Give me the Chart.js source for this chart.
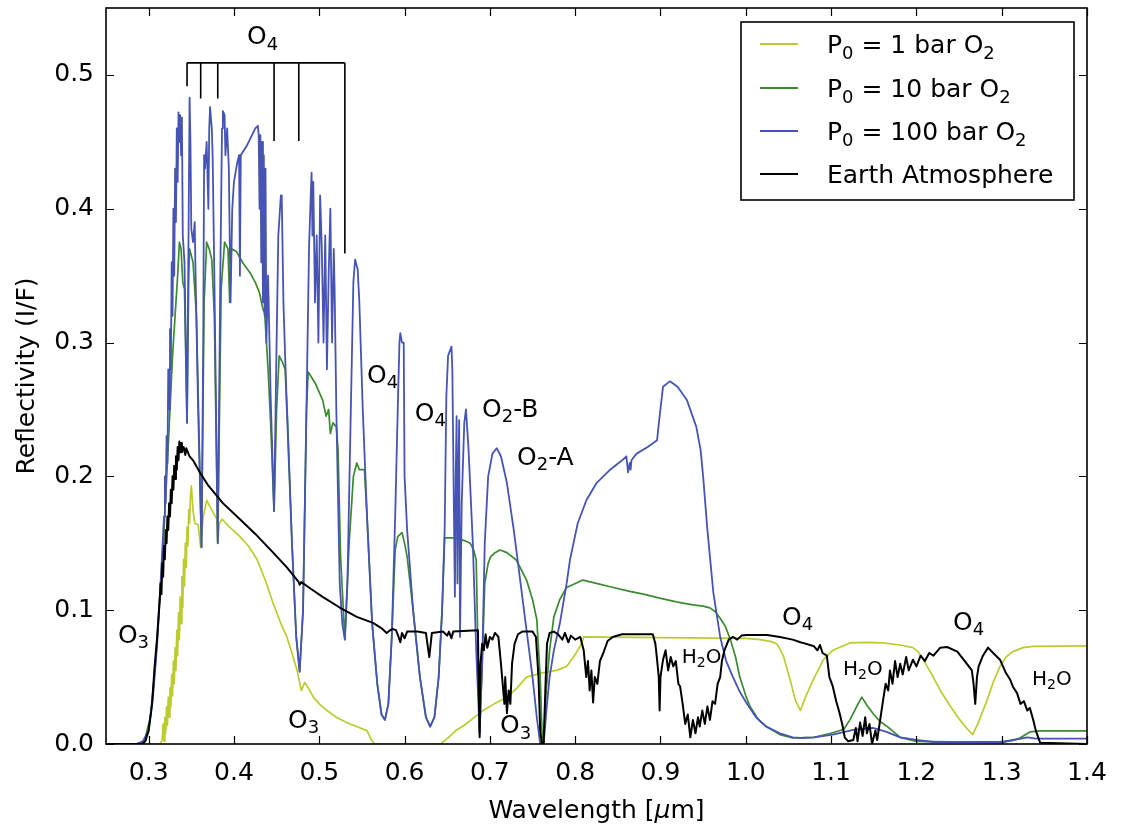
<!DOCTYPE html>
<html>
<head>
<meta charset="utf-8">
<script src="https://cdn.jsdelivr.net/npm/chart.js@4/dist/chart.umd.min.js"></script>
<style>
html,body{margin:0;padding:0;background:#fff;}
canvas{display:block;}
</style>
</head>
<body>
<canvas id="c" width="1123" height="831"></canvas>
<script>
// ---- Data (wavelength in micron, reflectivity I/F) ----
const xTicks = [0.3,0.4,0.5,0.6,0.7,0.8,0.9,1.0,1.1,1.2,1.3,1.4];
const yTicks = [0.0,0.1,0.2,0.3,0.4,0.5];

const seriesNames = ['P_0 = 1 bar O_2','P_0 = 10 bar O_2','P_0 = 100 bar O_2','Earth Atmosphere'];

const bar1 = [
[0.25,0],[0.314,0],[0.316,0.004],[0.317,0.015],[0.318,0.002],[0.319,0.02],[0.320,0.008],[0.321,0.028],[0.322,0.014],
[0.323,0.035],[0.324,0.02],[0.325,0.042],[0.326,0.028],[0.327,0.052],[0.328,0.036],[0.329,0.062],[0.330,0.045],
[0.331,0.072],[0.332,0.055],[0.333,0.085],[0.334,0.066],[0.335,0.098],[0.336,0.078],[0.337,0.11],[0.338,0.09],
[0.339,0.125],[0.340,0.102],[0.341,0.138],[0.342,0.118],[0.343,0.15],[0.344,0.132],[0.345,0.162],[0.346,0.148],
[0.347,0.175],[0.348,0.165],[0.349,0.185],[0.350,0.193],
[0.352,0.175],[0.354,0.165],[0.358,0.164],[0.361,0.147],[0.364,0.17],[0.368,0.182],[0.374,0.175],[0.380,0.168],
[0.381,0.152],[0.383,0.165],[0.386,0.168],[0.395,0.162],[0.407,0.155],[0.417,0.148],[0.427,0.138],[0.437,0.122],
[0.446,0.105],[0.455,0.09],[0.462,0.080],[0.468,0.068],[0.474,0.055],[0.479,0.040],[0.483,0.046],[0.488,0.041],
[0.493,0.035],[0.500,0.030],[0.509,0.025],[0.520,0.020],[0.532,0.016],[0.540,0.014],[0.548,0.012],[0.556,0.010],
[0.561,0.003],[0.565,0],[0.642,0],[0.650,0.004],[0.655,0.007],[0.661,0.0105],[0.670,0.014],[0.680,0.019],
[0.692,0.025],[0.705,0.030],[0.720,0.035],[0.732,0.042],[0.743,0.050],[0.760,0.053],[0.778,0.055],[0.790,0.058],
[0.798,0.065],[0.806,0.073],[0.810,0.080],[0.900,0.0795],[1.000,0.079],[1.017,0.078],[1.030,0.0765],[1.037,0.0745],
[1.044,0.066],[1.052,0.048],[1.058,0.033],[1.064,0.025],[1.070,0.035],[1.079,0.048],[1.091,0.063],[1.102,0.070],
[1.122,0.0755],[1.142,0.076],[1.160,0.0755],[1.181,0.074],[1.196,0.072],[1.202,0.069],[1.208,0.063],[1.218,0.052],
[1.228,0.040],[1.240,0.028],[1.251,0.018],[1.260,0.011],[1.266,0.007],[1.272,0.015],[1.283,0.033],[1.290,0.046],
[1.298,0.058],[1.305,0.065],[1.313,0.069],[1.325,0.072],[1.337,0.073],[1.40,0.0733]
];

const bar10 = [
[0.25,0],[0.29,0],[0.295,0.002],[0.302,0.02],[0.308,0.06],[0.313,0.11],[0.318,0.16],[0.322,0.21],[0.325,0.25],
[0.328,0.29],[0.330,0.31],[0.332,0.33],[0.334,0.35],[0.336,0.375],[0.338,0.37],[0.340,0.345],[0.342,0.34],
[0.345,0.24],[0.347,0.35],[0.348,0.37],[0.352,0.36],[0.356,0.32],[0.362,0.147],[0.365,0.33],[0.368,0.375],
[0.371,0.37],[0.374,0.362],[0.377,0.32],[0.381,0.15],[0.385,0.34],[0.389,0.375],[0.393,0.37],[0.395,0.33],
[0.397,0.37],[0.403,0.368],[0.410,0.36],[0.419,0.352],[0.425,0.345],[0.430,0.337],[0.434,0.325],[0.436,0.322],
[0.440,0.28],[0.443,0.24],[0.447,0.174],[0.450,0.25],[0.453,0.29],[0.457,0.285],[0.460,0.28],[0.463,0.24],
[0.468,0.15],[0.473,0.08],[0.477,0.054],[0.481,0.10],[0.485,0.25],[0.487,0.278],[0.495,0.27],[0.504,0.257],
[0.508,0.245],[0.511,0.25],[0.513,0.232],[0.516,0.24],[0.520,0.237],[0.522,0.22],[0.525,0.14],[0.530,0.078],
[0.535,0.15],[0.540,0.20],[0.544,0.21],[0.547,0.205],[0.553,0.205],[0.556,0.17],[0.562,0.09],[0.568,0.045],
[0.573,0.022],[0.577,0.018],[0.581,0.03],[0.585,0.08],[0.589,0.145],[0.592,0.155],[0.597,0.158],[0.600,0.15],
[0.603,0.14],[0.610,0.10],[0.618,0.05],[0.625,0.02],[0.630,0.013],[0.635,0.02],[0.640,0.05],[0.644,0.10],
[0.647,0.154],[0.651,0.154],[0.660,0.154],[0.665,0.153],[0.670,0.152],[0.677,0.150],[0.681,0.145],[0.684,0.1375],
[0.686,0.07],[0.688,0.008],[0.691,0.06],[0.694,0.12],[0.698,0.135],[0.701,0.14],[0.706,0.143],[0.712,0.145],
[0.720,0.143],[0.731,0.1375],[0.743,0.1225],[0.750,0.108],[0.755,0.093],[0.759,0.05],[0.761,0.01],[0.763,0.0],
[0.766,0.04],[0.770,0.07],[0.775,0.095],[0.782,0.108],[0.790,0.117],[0.797,0.119],[0.809,0.1225],[0.825,0.12],
[0.841,0.1175],[0.864,0.114],[0.880,0.112],[0.899,0.109],[0.920,0.106],[0.938,0.104],[0.950,0.103],[0.958,0.1017],
[0.964,0.099],[0.970,0.094],[0.976,0.088],[0.982,0.078],[0.988,0.065],[0.993,0.050],[1.000,0.036],[1.005,0.028],
[1.015,0.018],[1.024,0.013],[1.040,0.007],[1.055,0.0045],[1.080,0.005],[1.100,0.008],[1.115,0.011],[1.122,0.018],
[1.130,0.028],[1.136,0.035],[1.142,0.029],[1.149,0.023],[1.157,0.017],[1.166,0.013],[1.181,0.005],[1.200,0.002],
[1.300,0.001],[1.320,0.004],[1.333,0.009],[1.345,0.0098],[1.40,0.0098]
];

const bar100 = [
[0.25,0],[0.285,0],[0.293,0.002],[0.300,0.01],[0.305,0.035],[0.310,0.075],[0.314,0.12],[0.318,0.17],[0.319,0.2],
[0.320,0.18],[0.321,0.23],[0.322,0.21],[0.323,0.28],[0.324,0.25],[0.325,0.31],[0.326,0.28],[0.327,0.36],[0.328,0.32],
[0.329,0.40],[0.330,0.35],[0.331,0.43],[0.332,0.39],[0.333,0.46],[0.334,0.42],[0.335,0.472],[0.336,0.45],
[0.337,0.47],[0.338,0.44],[0.339,0.468],[0.340,0.38],[0.342,0.36],
[0.345,0.24],[0.347,0.40],[0.348,0.483],[0.349,0.45],[0.350,0.385],[0.352,0.375],[0.354,0.39],[0.355,0.35],
[0.358,0.25],[0.362,0.147],[0.364,0.30],[0.365,0.44],[0.366,0.43],[0.368,0.45],[0.370,0.40],[0.371,0.46],
[0.372,0.476],[0.374,0.46],[0.375,0.44],[0.377,0.35],[0.381,0.15],[0.384,0.35],[0.386,0.46],[0.387,0.473],
[0.389,0.47],[0.390,0.44],[0.392,0.46],[0.394,0.43],[0.396,0.33],[0.398,0.40],[0.400,0.42],[0.404,0.435],
[0.406,0.44],[0.407,0.35],[0.408,0.44],[0.415,0.447],[0.425,0.46],[0.428,0.462],[0.429,0.455],[0.430,0.40],
[0.431,0.455],[0.432,0.36],[0.433,0.45],[0.434,0.33],[0.435,0.44],[0.436,0.32],[0.437,0.43],[0.438,0.30],
[0.440,0.35],[0.443,0.26],[0.447,0.174],[0.450,0.30],[0.452,0.38],[0.455,0.41],[0.456,0.41],[0.458,0.33],
[0.462,0.25],[0.468,0.15],[0.473,0.08],[0.477,0.054],[0.481,0.10],[0.485,0.25],[0.488,0.37],[0.490,0.41],
[0.491,0.427],[0.492,0.38],[0.493,0.42],[0.495,0.33],[0.497,0.38],[0.499,0.30],[0.501,0.41],[0.503,0.37],
[0.505,0.30],[0.507,0.38],[0.509,0.28],[0.511,0.35],[0.513,0.40],[0.515,0.30],[0.517,0.37],[0.518,0.34],
[0.520,0.25],[0.524,0.12],[0.527,0.09],[0.530,0.078],[0.533,0.12],[0.537,0.25],[0.540,0.345],[0.542,0.362],
[0.545,0.355],[0.547,0.33],[0.551,0.25],[0.556,0.17],[0.562,0.09],[0.568,0.045],[0.573,0.022],[0.577,0.018],
[0.581,0.03],[0.585,0.08],[0.589,0.17],[0.592,0.25],[0.594,0.30],[0.595,0.307],[0.597,0.30],[0.599,0.30],
[0.600,0.20],[0.603,0.16],[0.610,0.10],[0.618,0.05],[0.625,0.02],[0.630,0.013],[0.635,0.02],[0.640,0.05],
[0.644,0.10],[0.647,0.16],[0.649,0.26],[0.651,0.29],[0.655,0.297],[0.656,0.28],[0.659,0.11],[0.660,0.20],
[0.661,0.245],[0.662,0.12],[0.663,0.20],[0.664,0.242],[0.665,0.08],[0.667,0.18],[0.670,0.24],[0.672,0.25],
[0.675,0.22],[0.680,0.15],[0.684,0.07],[0.688,0.008],[0.691,0.06],[0.694,0.15],[0.698,0.20],[0.703,0.217],
[0.708,0.221],[0.713,0.215],[0.720,0.195],[0.728,0.16],[0.736,0.12],[0.744,0.08],[0.750,0.05],[0.755,0.02],
[0.759,0.0],[0.763,0.0],[0.767,0.03],[0.770,0.05],[0.775,0.07],[0.782,0.09],[0.790,0.12],[0.794,0.138],
[0.803,0.165],[0.813,0.182],[0.825,0.195],[0.841,0.205],[0.855,0.212],[0.860,0.215],[0.862,0.203],[0.864,0.21],
[0.865,0.205],[0.866,0.212],[0.872,0.217],[0.885,0.222],[0.896,0.227],[0.899,0.245],[0.903,0.267],[0.911,0.271],
[0.920,0.267],[0.931,0.257],[0.942,0.237],[0.947,0.22],[0.950,0.20],[0.955,0.16],[0.962,0.113],[0.970,0.080],
[0.977,0.062],[0.985,0.050],[0.993,0.039],[1.001,0.0305],[1.012,0.02],[1.024,0.013],[1.040,0.008],[1.055,0.005],
[1.064,0.0045],[1.080,0.005],[1.102,0.007],[1.126,0.0105],[1.149,0.012],[1.165,0.009],[1.181,0.005],[1.200,0.003],
[1.220,0.0015],[1.298,0.0015],[1.315,0.003],[1.330,0.005],[1.340,0.004],[1.40,0.004]
];

const earth = [
[0.25,0],[0.292,0],[0.296,0.002],[0.300,0.01],[0.304,0.03],[0.307,0.058],[0.310,0.08],[0.313,0.108],[0.314,0.12],
[0.315,0.112],[0.316,0.135],[0.317,0.125],[0.318,0.148],[0.319,0.138],[0.320,0.16],[0.321,0.15],[0.322,0.17],
[0.323,0.16],[0.324,0.18],[0.325,0.17],[0.326,0.19],[0.327,0.18],[0.328,0.2],[0.329,0.19],[0.330,0.208],
[0.331,0.198],[0.332,0.215],[0.333,0.205],[0.334,0.222],[0.335,0.212],[0.336,0.226],[0.337,0.218],[0.338,0.225],
[0.339,0.218],[0.341,0.222],[0.343,0.216],[0.344,0.221],
[0.348,0.215],[0.352,0.212],[0.360,0.203],[0.370,0.193],[0.387,0.180],[0.407,0.168],[0.425,0.157],[0.446,0.143],
[0.462,0.132],[0.476,0.121],[0.477,0.119],[0.479,0.121],[0.490,0.116],[0.504,0.110],[0.524,0.102],[0.544,0.095],
[0.563,0.0905],[0.574,0.086],[0.579,0.083],[0.583,0.085],[0.586,0.086],[0.590,0.085],[0.593,0.080],[0.595,0.076],
[0.597,0.083],[0.600,0.079],[0.603,0.084],[0.615,0.084],[0.625,0.083],[0.629,0.065],[0.632,0.083],[0.645,0.084],
[0.650,0.081],[0.652,0.084],[0.655,0.079],[0.657,0.084],[0.686,0.085],[0.687,0.04],[0.688,0.005],[0.689,0.06],
[0.691,0.075],[0.693,0.07],[0.695,0.082],[0.697,0.072],[0.700,0.08],[0.703,0.078],[0.706,0.083],[0.710,0.08],
[0.713,0.06],[0.715,0.045],[0.717,0.03],[0.718,0.05],[0.720,0.023],[0.722,0.04],[0.724,0.03],[0.726,0.06],
[0.729,0.075],[0.733,0.082],[0.738,0.084],[0.750,0.084],[0.754,0.08],[0.757,0.05],[0.759,0.01],[0.761,0.0],
[0.763,0.0],[0.765,0.04],[0.767,0.075],[0.770,0.083],[0.775,0.084],[0.780,0.082],[0.785,0.078],[0.788,0.083],
[0.792,0.076],[0.795,0.081],[0.800,0.078],[0.806,0.080],[0.810,0.07],[0.813,0.05],[0.815,0.062],[0.817,0.04],
[0.819,0.055],[0.821,0.031],[0.823,0.05],[0.826,0.045],[0.829,0.062],[0.833,0.068],[0.838,0.077],[0.844,0.080],
[0.855,0.082],[0.891,0.082],[0.894,0.075],[0.896,0.063],[0.898,0.05],[0.899,0.025],[0.900,0.05],[0.903,0.063],
[0.906,0.07],[0.909,0.055],[0.912,0.065],[0.915,0.058],[0.918,0.062],[0.921,0.045],[0.923,0.043],[0.926,0.03],
[0.929,0.015],[0.932,0.022],[0.935,0.005],[0.938,0.018],[0.941,0.008],[0.944,0.02],[0.946,0.013],[0.949,0.025],
[0.952,0.015],[0.955,0.028],[0.958,0.018],[0.961,0.032],[0.964,0.03],[0.967,0.045],[0.970,0.05],[0.972,0.062],
[0.975,0.07],[0.980,0.078],[0.985,0.080],[0.990,0.078],[0.995,0.081],[1.001,0.0815],[1.025,0.0815],[1.040,0.080],
[1.055,0.078],[1.064,0.076],[1.070,0.075],[1.080,0.073],[1.084,0.070],[1.087,0.074],[1.090,0.068],[1.095,0.066],
[1.098,0.05],[1.102,0.043],[1.106,0.032],[1.110,0.023],[1.113,0.015],[1.116,0.005],[1.120,0.002],[1.126,0.003],
[1.129,0.012],[1.131,0.002],[1.134,0.016],[1.137,0.006],[1.140,0.02],[1.142,0.008],[1.145,0.015],[1.148,0.0],
[1.152,0.01],[1.154,0.003],[1.158,0.02],[1.161,0.033],[1.164,0.045],[1.167,0.04],[1.169,0.055],[1.172,0.045],
[1.175,0.062],[1.178,0.05],[1.181,0.060],[1.184,0.052],[1.188,0.065],[1.191,0.055],[1.196,0.063],[1.200,0.058],
[1.205,0.066],[1.210,0.062],[1.215,0.068],[1.220,0.066],[1.228,0.072],[1.236,0.0725],[1.248,0.069],[1.259,0.060],
[1.265,0.055],[1.267,0.045],[1.269,0.030],[1.271,0.05],[1.273,0.058],[1.278,0.066],[1.284,0.072],[1.290,0.068],
[1.298,0.063],[1.305,0.053],[1.310,0.048],[1.313,0.043],[1.318,0.038],[1.322,0.030],[1.326,0.032],[1.330,0.025],
[1.333,0.027],[1.337,0.018],[1.340,0.010],[1.345,0.001],[1.40,0]
];

// O4 bracket: horizontal at bracketTop, vertical drops to given bottoms
const bracketX = [0.345,0.361,0.381,0.447,0.476,0.530];
const bracketBottom = [0.4916,0.4824,0.4824,0.4506,0.4506,0.3665];
const bracketTop = 0.509;

// Annotation labels ('_' marks a subscript character)
const annoText = ['O_4','O_4','O_4','O_2-B','O_2-A','O_3','O_3','O_3','H_2O','O_4','H_2O','O_4','H_2O'];
const annoX    = [0.4153,0.556,0.612,0.6908,0.7318,0.264,0.4634,0.712,0.925,1.0425,1.114,1.243,1.3356];
const annoY    = [0.523,0.270,0.2416,0.2446,0.2087,0.0755,0.012,0.0082,0.0606,0.089,0.0516,0.0853,0.0441];

const colors = ['#bccb30','#3b8a32','#4754b4','#000000'];
const FONT = '"DejaVu Sans", "Liberation Sans", sans-serif';

function toXY(a){ return a.map(p => ({x:p[0], y:p[1]})); }

function drawRich(ctx, str, x, y, size, align){
  const subSize = Math.round(size*0.7);
  const parts = [];
  for (let i=0;i<str.length;i++){
    if (str[i]==='_' && i+1<str.length){ parts.push({t:str[i+1],sub:true}); i++; }
    else {
      if (parts.length && !parts[parts.length-1].sub) parts[parts.length-1].t += str[i];
      else parts.push({t:str[i],sub:false});
    }
  }
  let total = 0;
  parts.forEach(p => { ctx.font = (p.sub?subSize:size)+'px '+FONT; p.w = ctx.measureText(p.t).width; total += p.w; });
  let cx = align==='center' ? x - total/2 : x;
  ctx.textAlign = 'left';
  ctx.textBaseline = 'alphabetic';
  parts.forEach(p => {
    ctx.font = (p.sub?subSize:size)+'px '+FONT;
    ctx.fillText(p.t, cx, p.sub ? y + size*0.22 : y);
    cx += p.w;
  });
}

const decor = {
  id: 'decor',
  afterDatasetsDraw(chart){
    const ctx = chart.ctx, a = chart.chartArea;
    const xs = chart.scales.x, ys = chart.scales.y;
    ctx.save();
    ctx.strokeStyle = '#000';
    ctx.fillStyle = '#000';
    ctx.lineWidth = 1.6;
    ctx.strokeRect(a.left, a.top, a.right-a.left, a.bottom-a.top);
    ctx.lineWidth = 1.2;
    const tl = 8;
    ctx.beginPath();
    xTicks.forEach(v => {
      const px = Math.round(xs.getPixelForValue(v))+0.5;
      ctx.moveTo(px, a.bottom); ctx.lineTo(px, a.bottom - tl);
      ctx.moveTo(px, a.top); ctx.lineTo(px, a.top + tl);
    });
    yTicks.forEach(v => {
      const py = Math.round(ys.getPixelForValue(v))+0.5;
      ctx.moveTo(a.left, py); ctx.lineTo(a.left + tl, py);
      ctx.moveTo(a.right, py); ctx.lineTo(a.right - tl, py);
    });
    ctx.stroke();
    ctx.lineWidth = 1.6;
    ctx.beginPath();
    const yTop = ys.getPixelForValue(bracketTop);
    ctx.moveTo(xs.getPixelForValue(bracketX[0]), yTop);
    ctx.lineTo(xs.getPixelForValue(bracketX[bracketX.length-1]), yTop);
    bracketX.forEach((bx,i) => {
      const px = xs.getPixelForValue(bx);
      ctx.moveTo(px, yTop); ctx.lineTo(px, ys.getPixelForValue(bracketBottom[i]));
    });
    ctx.stroke();
    annoText.forEach((t,i) => {
      const size = t.startsWith('H') ? 20 : 25;
      drawRich(ctx, t, xs.getPixelForValue(annoX[i]), ys.getPixelForValue(annoY[i]), size, 'left');
    });
    const L = {x:741, y:22, w:333, h:178};
    ctx.fillStyle = '#fff';
    ctx.fillRect(L.x, L.y, L.w, L.h);
    ctx.lineWidth = 1.6;
    ctx.strokeStyle = '#000';
    ctx.strokeRect(L.x, L.y, L.w, L.h);
    const rowY = [44, 88, 131, 174];
    seriesNames.forEach((n,i) => {
      ctx.strokeStyle = colors[i];
      ctx.lineWidth = 2;
      ctx.beginPath();
      ctx.moveTo(760, rowY[i]); ctx.lineTo(798, rowY[i]);
      ctx.stroke();
      ctx.fillStyle = '#000';
      drawRich(ctx, n, 827, rowY[i] + 9, 25, 'left');
    });
    ctx.fillStyle = '#000';
    ctx.textBaseline = 'alphabetic';
    const p1 = 'Wavelength [', p2 = '\u03BC', p3 = 'm]';
    ctx.font = '25px ' + FONT; const w1 = ctx.measureText(p1).width;
    ctx.font = 'italic 25px ' + FONT; const w2 = ctx.measureText(p2).width;
    ctx.font = '25px ' + FONT; const w3 = ctx.measureText(p3).width;
    let sx = (a.left + a.right)/2 - (w1+w2+w3)/2;
    const by = 818;
    ctx.textAlign = 'left';
    ctx.font = '25px ' + FONT; ctx.fillText(p1, sx, by); sx += w1;
    ctx.font = 'italic 25px ' + FONT; ctx.fillText(p2, sx, by); sx += w2;
    ctx.font = '25px ' + FONT; ctx.fillText(p3, sx, by);
    ctx.save();
    ctx.translate(34, (a.top + a.bottom)/2);
    ctx.rotate(-Math.PI/2);
    ctx.textAlign = 'center';
    ctx.font = '25px ' + FONT;
    ctx.fillText('Reflectivity (I/F)', 0, 0);
    ctx.restore();
    ctx.restore();
  }
};

new Chart(document.getElementById('c'), {
  type: 'line',
  data: {
    datasets: [
      {label: seriesNames[0], data: toXY(bar1),  borderColor: colors[0], borderWidth: 1.7, order: 4},
      {label: seriesNames[1], data: toXY(bar10), borderColor: colors[1], borderWidth: 1.7, order: 3},
      {label: seriesNames[2], data: toXY(bar100),borderColor: colors[2], borderWidth: 1.8, order: 2},
      {label: seriesNames[3], data: toXY(earth), borderColor: colors[3], borderWidth: 2.0, order: 1}
    ]
  },
  options: {
    responsive: false,
    animation: false,
    events: [],
    elements: { point: { radius: 0 }, line: { tension: 0, fill: false, borderJoinStyle: 'round' } },
    layout: { padding: { top: 8, right: 36, left: 0, bottom: 0 } },
    plugins: { legend: { display: false }, tooltip: { enabled: false } },
    scales: {
      x: {
        type: 'linear', min: 0.25, max: 1.4,
        afterBuildTicks: s => { s.ticks = xTicks.map(v => ({value: v})); },
        afterFit: s => { s.height = 87; s.paddingLeft = 0; s.paddingRight = 0; s.paddingTop = 0; s.paddingBottom = 0; },
        grid: { display: false, drawTicks: false },
        border: { display: false },
        ticks: { color: '#000', font: { family: FONT, size: 25 }, padding: 14, maxRotation: 0,
                 callback: v => Number(v).toFixed(1) }
      },
      y: {
        type: 'linear', min: 0, max: 0.55,
        afterBuildTicks: s => { s.ticks = yTicks.map(v => ({value: v})); },
        afterFit: s => { s.width = 106; s.paddingTop = 0; s.paddingBottom = 0; s.paddingLeft = 0; s.paddingRight = 0; },
        grid: { display: false, drawTicks: false },
        border: { display: false },
        ticks: { color: '#000', font: { family: FONT, size: 25 }, padding: 12,
                 callback: v => Number(v).toFixed(1) }
      }
    }
  },
  plugins: [decor]
});
</script>
</body>
</html>
